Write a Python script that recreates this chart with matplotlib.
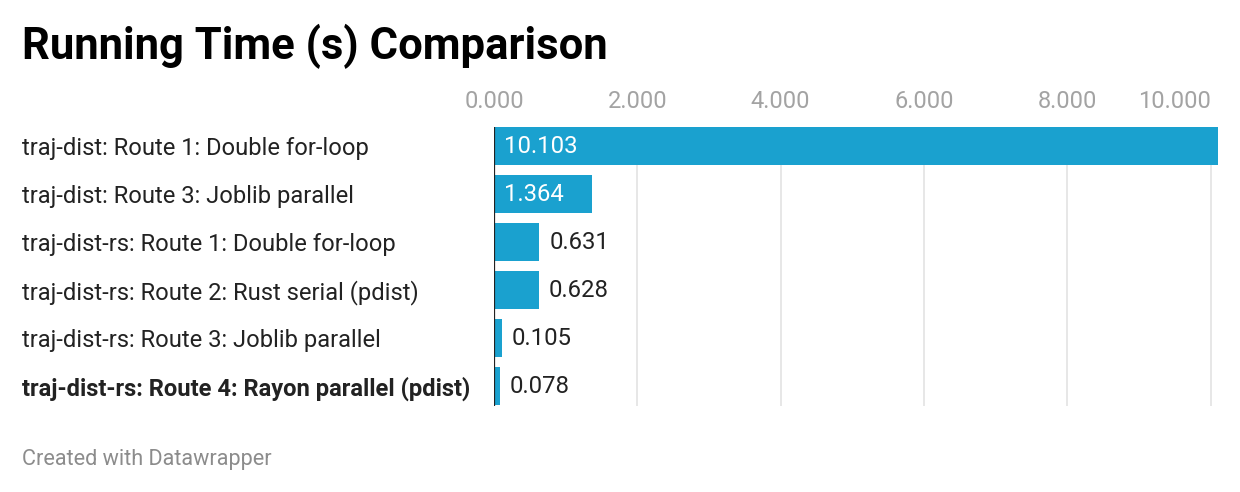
import matplotlib.pyplot as plt

# Data
labels = ['traj-dist: Route 1: Double for-loop',
          'traj-dist: Route 3: Joblib parallel',
          'traj-dist-rs: Route 1: Double for-loop',
          'traj-dist-rs: Route 2: Rust serial (pdist)',
          'traj-dist-rs: Route 3: Joblib parallel',
          'traj-dist-rs: Route 4: Rayon parallel (pdist)']
times = [10.103, 1.364, 0.631, 0.628, 0.105, 0.078]
ticks = [0, 2, 4, 6, 8, 10]
tick_labels = ['0.000', '2.000', '4.000', '6.000', '8.000', '10.000']

plt.rcParams['font.family'] = ['Roboto', 'DejaVu Sans']

W, H = 1240, 492
fig = plt.figure(figsize=(W / 100, H / 100), dpi=100)
ax = fig.add_axes([494 / W, 1 - 405.5 / H, (1218 - 494) / W, (405.5 - 127) / H])

bar_color = '#1aa1cf'
ypos = list(range(len(labels)))
ax.barh(ypos, times, height=0.79, color=bar_color, zorder=2)
ax.set_xlim(0, max(times))
ax.set_ylim(len(labels) - 1 + 0.4, -0.4)

# grid lines
for t in ticks[1:]:
    ax.axvline(t, color='#e3e3e3', lw=1.2, zorder=1)
ax.axvline(0, color='#222222', lw=1.6, zorder=3)

for s in ax.spines.values():
    s.set_visible(False)

ax.xaxis.tick_top()
ax.set_xticks(ticks)
ax.set_xticklabels(tick_labels, fontsize=17, color='#a3a3a3')
ax.tick_params(axis='x', length=0, pad=10)
ax.get_xticklabels()[-1].set_ha('right')

ax.set_yticks(ypos)
ax.set_yticklabels(labels, fontsize=17.1, color='#222222', ha='left')
ax.tick_params(axis='y', length=0, pad=340)
ax.get_yticklabels()[-1].set_fontweight('bold')

# value labels
offset = 10 / 71.7
for y, v in zip(ypos, times):
    txt = '%.3f' % v
    if v > 1:
        ax.text(offset, y, txt, va='center', ha='left', color='white', fontsize=17.2, zorder=4)
    else:
        ax.text(v + offset, y, txt, va='center', ha='left', color='#222222', fontsize=17.2, zorder=4)

fig.text(22 / W, 1 - 46 / H, 'Running Time (s) Comparison', fontsize=31.4, fontweight='bold',
         color='#000000', va='center', ha='left')
fig.text(22 / W, 1 - 459 / H, 'Created with Datawrapper', fontsize=15.6, color='#8c8c8c',
         va='center', ha='left')

fig.savefig('out.png', dpi=100)
